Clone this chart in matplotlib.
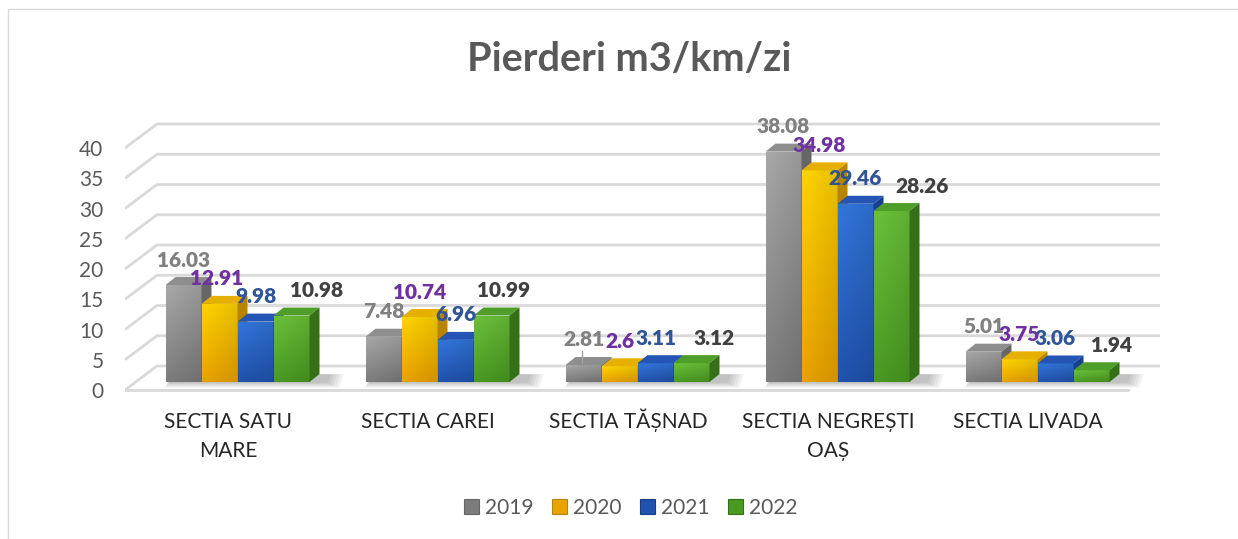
import matplotlib.pyplot as plt
import numpy as np
from matplotlib.patches import Polygon, Rectangle, Patch
from matplotlib.colors import to_rgb
from matplotlib.transforms import blended_transform_factory

plt.rcParams["font.family"] = ["Lato", "DejaVu Sans"]

# ── data ─────────────────────────────────────────────────────────────────────
categories = ["SECTIA SATU\nMARE", "SECTIA CAREI", "SECTIA TĂȘNAD",
              "SECTIA NEGREȘTI\nOAȘ", "SECTIA LIVADA"]
years = ["2019", "2020", "2021", "2022"]
v2019 = [16.03, 7.48, 2.81, 38.08, 5.01]
v2020 = [12.91, 10.74, 2.6, 34.98, 3.75]
v2021 = [9.98, 6.96, 3.11, 29.46, 3.06]
v2022 = [10.98, 10.99, 3.12, 28.26, 1.94]
yticks = list(range(0, 45, 5))
title = "Pierderi m3/km/zi"

# ── styling ──────────────────────────────────────────────────────────────────
# (front top, front bottom, top face, side face, label colour)
STYLE = [
    ("#a8a8a8", "#7c7c7c", "#8e8e8e", "#666666", "#808080"),
    ("#ffd400", "#e9a200", "#e6b000", "#b88400", "#7030a0"),
    ("#3276dc", "#2152ad", "#2455b4", "#183f8c", "#2f5597"),
    ("#6cc13a", "#4a9a22", "#4f9e2a", "#356f18", "#404040"),
]
LABEL_DX = [[0, 0, 0, 0, 0], [-3, 0, 0, 0, 0], [0, 0, 0, 0, 0], [25, 12, 23, 31, 20]]
GRID = "#d9d9d9"
TXT = "#595959"

W, H = 1238, 539
fig = plt.figure(figsize=(W / 100, H / 100), dpi=100)

# axes placed in pixel terms, data scale: 200 px per category, 6.05 px per unit
AX_L, AX_R, AX_T, AX_B = 125, 1165, 112, 392
X0_PX, PX_CAT = 228, 200.0
Y0_PX, PX_UNIT = 382, 6.05
ax = fig.add_axes([AX_L / W, 1 - AX_B / H, (AX_R - AX_L) / W, (AX_B - AX_T) / H])
xlim = ((AX_L - X0_PX) / PX_CAT, (AX_R - X0_PX) / PX_CAT)
ylim = ((Y0_PX - AX_B) / PX_UNIT, (Y0_PX - AX_T) / PX_UNIT)

px_x = lambda p: p / PX_CAT
px_y = lambda p: p / PX_UNIT

# 3D wall geometry
front_x, back_x = xlim[0], px_x(157 - X0_PX)
back_right, floor_right = px_x(1160 - X0_PX), px_x(1128 - X0_PX)
front_off, back_off = px_y(-8), px_y(16)

for v in yticks:
    ax.plot([front_x, back_x, back_right], [v + front_off, v + back_off, v + back_off],
            color=GRID, lw=2, zorder=1, solid_capstyle="butt")
ax.plot([front_x, floor_right], [front_off, front_off], color=GRID, lw=2, zorder=1)

# bars
BW = 0.18
shift = px_x(9.5)
ddx, ddy = px_x(10), px_y(8)
series = [v2019, v2020, v2021, v2022]
xs_all = np.arange(len(categories))

# soft floor shadow under each group
for i in xs_all:
    xl = i - 2 * BW + shift
    xr = i + 2 * BW + shift + ddx
    for k in range(5):
        ax.add_patch(Polygon([(xl + 0.005 * k, -0.9 + 0.18 * k), (xr + 0.10 - 0.015 * k, -0.9 + 0.18 * k),
                              (xr + 0.12 - 0.015 * k, 1.3), (xl + 0.02, 1.3)],
                             closed=True, facecolor="black", alpha=0.05, lw=0, zorder=5))

for j, vals in enumerate(series):
    ftop, fbot, ctop, cside, clab = STYLE[j]
    xs = xs_all + (j - 1.5) * BW + shift
    z = 10 + 4 * j
    bars = ax.bar(xs, vals, width=BW, color=fbot, lw=0, zorder=z)
    t = np.linspace(0, 1, 64)[:, None]
    s = np.linspace(0, 1, 16)[None, :]
    c0, c1 = np.array(to_rgb(ftop)), np.array(to_rgb(fbot))
    grad = (c0[None, None, :] * (1 - t[..., None]) + c1[None, None, :] * t[..., None])
    grad = grad * (1 - 0.10 * s[..., None])
    grad = np.clip(grad, 0, 1)
    for b, v in zip(bars, vals):
        x0, x1 = b.get_x(), b.get_x() + b.get_width()
        im = ax.imshow(grad, extent=[x0, x1, 0, v], aspect="auto", origin="upper",
                       interpolation="bilinear", zorder=z + 0.5)
        im.set_clip_path(b)
        ax.add_patch(Polygon([(x0, v), (x1, v), (x1 + ddx, v + ddy), (x0 + ddx, v + ddy)],
                             closed=True, facecolor=ctop, lw=0, zorder=z + 1))
        ax.add_patch(Polygon([(x1, 0), (x1, v), (x1 + ddx, v + ddy), (x1 + ddx, ddy)],
                             closed=True, facecolor=cside, lw=0, zorder=z + 1))
    for i, (xc, v) in enumerate(zip(xs, vals)):
        ax.annotate(f"{v:g}", xy=(xc, v), xytext=(LABEL_DX[j][i], 25),
                    textcoords="offset pixels", ha="center", va="center",
                    fontsize=15, fontweight="heavy", color=clab, zorder=40)

# small leader line for the TĂȘNAD 2019 label
xc_lead = xs_all[2] - 1.5 * BW + shift - px_x(2)
ax.plot([xc_lead, xc_lead], [v2019[2] + 0.3, v2019[2] + px_y(14)],
        color="#a0a0a0", lw=1, zorder=41)

ax.set_xlim(*xlim)
ax.set_ylim(*ylim)
ax.set_facecolor("none")
for sp in ax.spines.values():
    sp.set_visible(False)
ax.set_yticks([v + front_off for v in yticks])
ax.set_yticklabels([str(v) for v in yticks])
ax.tick_params(axis="y", length=0, pad=15.5, labelsize=15, labelcolor=TXT)
ax.set_xticks(xs_all)
ax.set_xticklabels([])
ax.tick_params(axis="x", length=0)

# category labels: each line on its own baseline so accents don't shift rows
trans = blended_transform_factory(ax.transData, ax.transAxes)
for i, cat in enumerate(categories):
    for k, line in enumerate(cat.split("\n")):
        base_px = 428 + 29 * k
        ax.text(i, (AX_B - base_px) / (AX_B - AX_T), line, transform=trans,
                ha="center", va="baseline", fontsize=15, color="#262626", clip_on=False)

fig.text(629 / W, 1 - 60 / H, title, ha="center", va="center",
         fontsize=28.5, fontweight="bold", color=TXT)

handles = [Patch(facecolor=st[1], edgecolor=st[3], lw=0.8) for st in STYLE]
fig.legend(handles, years, loc="center", bbox_to_anchor=(631 / W, 1 - 508 / H),
           ncol=4, frameon=False, fontsize=15, labelcolor=TXT,
           handlelength=0.7, handleheight=0.7, handletextpad=0.3, columnspacing=0.9)

fig.add_artist(Rectangle((8 / W, -0.05), 1.2, 1.05 - 9 / H, transform=fig.transFigure,
                         fill=False, edgecolor=GRID, lw=1))

fig.savefig("out.png", dpi=100)
